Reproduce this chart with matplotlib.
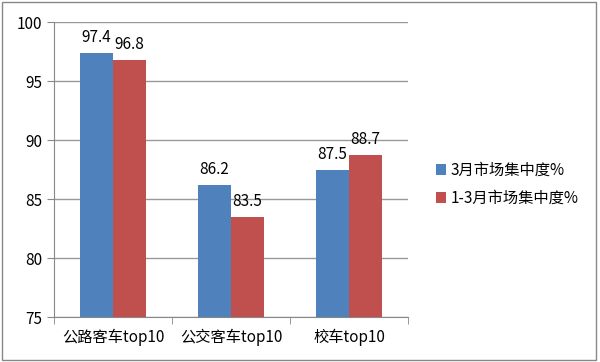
import numpy as np
import matplotlib.pyplot as plt
from matplotlib.patches import Rectangle

plt.rcParams['font.family'] = ['Noto Sans CJK SC', 'DejaVu Sans']

categories = ['公路客车top10', '公交客车top10', '校车top10']
march = [97.4, 86.2, 87.5]
q1 = [96.8, 83.5, 88.7]
series_names = ['3月市场集中度%', '1-3月市场集中度%']

blue = '#4F81BD'
red = '#C0504D'

fig = plt.figure(figsize=(6, 3.62), dpi=100)
ax = fig.add_axes([0.09, 0.124, 0.59, 0.815])

x = np.arange(len(categories))
w = 0.28
b1 = ax.bar(x - w/2, march, w, color=blue, label=series_names[0], zorder=3)
b2 = ax.bar(x + w/2, q1, w, color=red, label=series_names[1], zorder=3)

# value labels above bars
for bars, vals in ((b1, march), (b2, q1)):
    for r, v in zip(bars, vals):
        ax.text(r.get_x() + r.get_width()/2, v + 0.6, f'{v}', ha='center', va='bottom', fontsize=11)

ax.set_ylim(75, 100)
ax.set_yticks(range(75, 101, 5))
ax.set_xlim(-0.5, len(categories) - 0.5)
ax.set_xticks(x)
ax.set_xticklabels(categories, fontsize=11)
ax.set_xticks(np.arange(-0.5, len(categories)), minor=True)
ax.tick_params(axis='x', which='major', length=0, pad=8)
ax.tick_params(axis='x', which='minor', length=5, color='#888888')
ax.tick_params(axis='y', labelsize=11, length=5, color='#888888')
ax.yaxis.grid(True, color='#999999', linewidth=1, zorder=0)
for s in ['top', 'right']:
    ax.spines[s].set_visible(False)
ax.spines['left'].set_color('#888888')
ax.spines['bottom'].set_color('#888888')

fig.legend(loc='upper left', bbox_to_anchor=(0.703, 0.59), frameon=False, fontsize=11,
           handlelength=0.7, handleheight=0.7, handletextpad=0.3, labelspacing=0.7)

# outer frame
fig.patches.append(Rectangle((0.004, 0.006), 0.99, 0.988, transform=fig.transFigure,
                             fill=False, edgecolor='#888888', linewidth=1))

fig.savefig('out.png', dpi=100)
